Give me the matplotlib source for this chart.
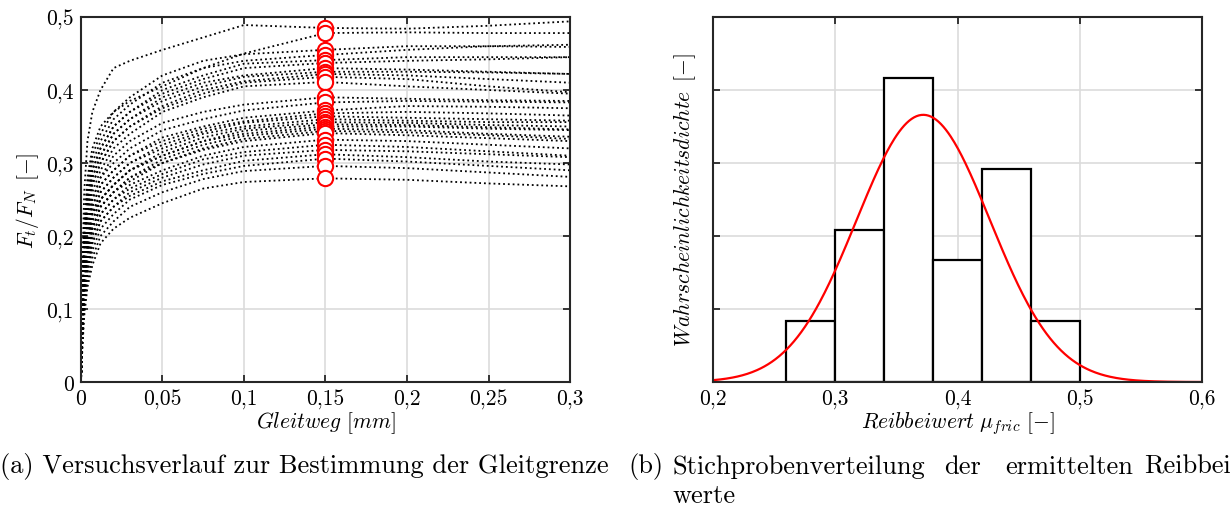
import numpy as np
import matplotlib
matplotlib.use('Agg')
import matplotlib.pyplot as plt

plt.rcParams['mathtext.fontset'] = 'cm'
plt.rcParams['font.family'] = 'serif'
plt.rcParams['font.serif'] = ['cmr10', 'DejaVu Serif']
plt.rcParams['axes.formatter.use_mathtext'] = True

# Gleitweg stuetzstellen [mm]
weg = [0, 0.001, 0.002, 0.004, 0.007, 0.012, 0.02, 0.03, 0.05, 0.075, 0.1, 0.15, 0.2, 0.25, 0.3]

# Ft/FN je Versuch an den Stuetzstellen
verlauf = [
    [0, .17, .26, .33, .37, .40, .43, .44, .455, .472, .489, .485, .484, .488, .494],
    [0, .15, .22, .28, .32, .35, .37, .385, .405, .43, .45, .478, .479, .478, .478],
    [0, .14, .21, .27, .31, .34, .37, .39, .42, .44, .449, .455, .46, .46, .459],
    [0, .13, .20, .26, .30, .33, .36, .38, .41, .43, .44, .448, .455, .46, .462],
    [0, .13, .20, .25, .29, .32, .35, .37, .40, .42, .436, .441, .445, .445, .445],
    [0, .12, .19, .25, .29, .32, .35, .37, .395, .415, .43, .437, .44, .442, .445],
    [0, .12, .19, .24, .28, .31, .34, .36, .39, .41, .42, .43, .428, .425, .422],
    [0, .12, .18, .24, .28, .31, .34, .36, .385, .405, .418, .425, .425, .424, .422],
    [0, .11, .18, .23, .27, .30, .33, .35, .378, .40, .412, .422, .42, .415, .41],
    [0, .11, .18, .23, .27, .30, .33, .35, .375, .395, .41, .418, .415, .405, .397],
    [0, .11, .17, .22, .26, .29, .32, .34, .37, .39, .405, .411, .405, .40, .395],
    [0, .10, .16, .21, .25, .28, .31, .33, .355, .37, .38, .39, .388, .386, .385],
    [0, .10, .16, .21, .25, .28, .30, .32, .345, .36, .372, .383, .385, .384, .383],
    [0, .10, .15, .20, .24, .27, .29, .31, .335, .35, .362, .372, .378, .377, .375],
    [0, .09, .15, .20, .24, .27, .29, .31, .33, .347, .357, .368, .37, .368, .365],
    [0, .09, .15, .19, .23, .26, .28, .30, .325, .343, .355, .364, .362, .36, .358],
    [0, .09, .14, .19, .23, .26, .28, .30, .32, .34, .35, .36, .358, .356, .356],
    [0, .09, .14, .19, .23, .25, .27, .29, .315, .335, .347, .356, .355, .352, .35],
    [0, .09, .14, .18, .22, .25, .27, .29, .31, .33, .344, .353, .352, .349, .346],
    [0, .08, .14, .18, .22, .25, .27, .29, .31, .33, .34, .35, .35, .347, .345],
    [0, .08, .13, .18, .21, .24, .26, .28, .305, .325, .337, .347, .345, .34, .336],
    [0, .08, .13, .18, .21, .24, .26, .28, .30, .32, .333, .344, .342, .338, .333],
    [0, .08, .13, .17, .21, .24, .26, .275, .30, .318, .33, .341, .338, .334, .33],
    [0, .08, .12, .17, .20, .23, .25, .27, .29, .31, .322, .332, .33, .325, .32],
    [0, .07, .12, .16, .20, .23, .25, .265, .285, .305, .315, .325, .322, .316, .31],
    [0, .07, .12, .16, .19, .22, .24, .26, .28, .298, .31, .318, .316, .312, .308],
    [0, .07, .11, .15, .19, .22, .24, .255, .275, .29, .303, .312, .308, .302, .298],
    [0, .07, .11, .15, .18, .21, .23, .25, .27, .285, .296, .306, .302, .296, .29],
    [0, .06, .10, .14, .17, .20, .22, .24, .26, .278, .289, .296, .293, .287, .281],
    [0, .05, .09, .13, .16, .19, .21, .225, .245, .265, .274, .279, .277, .272, .268],
]

# Reibbeiwerte bei 0,15 mm Gleitweg
x_mu = 0.15
mu_fric = [0.485, 0.478, 0.455, 0.448, 0.441, 0.437, 0.430, 0.425, 0.422, 0.418,
           0.411, 0.390, 0.383, 0.372, 0.368, 0.364, 0.360, 0.356, 0.353, 0.350,
           0.347, 0.344, 0.341, 0.332, 0.325, 0.318, 0.312, 0.306, 0.296, 0.279]

# Klassen des Histogramms und Normalverteilung
bin_edges = [0.26, 0.30, 0.34, 0.38, 0.42, 0.46, 0.50]
mu_fit = 0.372
sigma_fit = 0.0545

def komma(v):
    s = ('%g' % v).replace('.', ',')
    return s

def style_axes(ax):
    for sp in ax.spines.values():
        sp.set_color('#262626')
        sp.set_linewidth(1.5)
    ax.tick_params(direction='in', length=5, width=1.3, color='#262626',
                   top=True, right=True, labelsize=15.5, pad=5)
    ax.grid(True, color='#dcdcdc', linewidth=1.2)
    ax.set_axisbelow(True)

fig = plt.figure(figsize=(12.32, 5.10), dpi=100)

# (a) Versuchsverlauf
ax1 = fig.add_axes([0.0657, 0.249, 0.397, 0.7157])
for y in verlauf:
    ax1.plot(weg, y, ':', color='k', linewidth=1.3)
ax1.plot([x_mu] * len(mu_fric), mu_fric, 'o', markersize=11, markerfacecolor='white',
         markeredgecolor='r', markeredgewidth=1.5, linestyle='none')
ax1.set_xlim(0, 0.3)
ax1.set_ylim(0, 0.5)
xt = [0, 0.05, 0.1, 0.15, 0.2, 0.25, 0.3]
yt = [0, 0.1, 0.2, 0.3, 0.4, 0.5]
ax1.set_xticks(xt)
ax1.set_xticklabels([komma(v) for v in xt])
ax1.set_yticks(yt)
ax1.set_yticklabels([komma(v) for v in yt])
style_axes(ax1)
ax1.set_xlabel(r'$Gleitweg\ [mm]$', fontsize=15.5, labelpad=0)
ax1.set_ylabel(r'$F_t/F_N\ \,[-]$', fontsize=15.5, labelpad=4)

# (b) Stichprobenverteilung
ax2 = fig.add_axes([0.5787, 0.249, 0.397, 0.7157])
ax2.hist(mu_fric, bins=bin_edges, density=True, facecolor='white',
         edgecolor='k', linewidth=1.6)
xs = np.linspace(0.2, 0.6, 400)
pdf = np.exp(-0.5 * ((xs - mu_fit) / sigma_fit) ** 2) / (sigma_fit * np.sqrt(2 * np.pi))
ax2.plot(xs, pdf, color='r', linewidth=1.6)
ax2.set_xlim(0.2, 0.6)
ax2.set_ylim(0, 10)
xt2 = [0.2, 0.3, 0.4, 0.5, 0.6]
ax2.set_xticks(xt2)
ax2.set_xticklabels([komma(v) for v in xt2])
ax2.set_yticks([0, 2, 4, 6, 8, 10])
ax2.set_yticklabels([])
style_axes(ax2)
ax2.set_xlabel(r'$Reibbeiwert\ \mu_{fric}\ [-]$', fontsize=15.5, labelpad=0)
ax2.set_ylabel(r'$Wahrscheinlichkeitsdichte\ \,[-]$', fontsize=15.5, labelpad=6)

# Unterschriften (b im Blocksatz, rechts abgeschnitten)
fs_cap = 19
fig.text(0.0, 0.085, '(a) Versuchsverlauf zur Bestimmung der Gleitgrenze',
         fontsize=fs_cap, ha='left', va='center')
fig.text(628 / 1232, 0.085, '(b)', fontsize=fs_cap, ha='left', va='center')
for wort, xp in [('Stichprobenverteilung', 672), ('der', 944), ('ermittelten', 1005),
                 ('Reibbei', 1144)]:
    fig.text(xp / 1232, 0.085, wort, fontsize=fs_cap, ha='left', va='center')
fig.text(672 / 1232, 0.027, 'werte', fontsize=fs_cap, ha='left', va='center')

fig.savefig('out.png', dpi=100)
